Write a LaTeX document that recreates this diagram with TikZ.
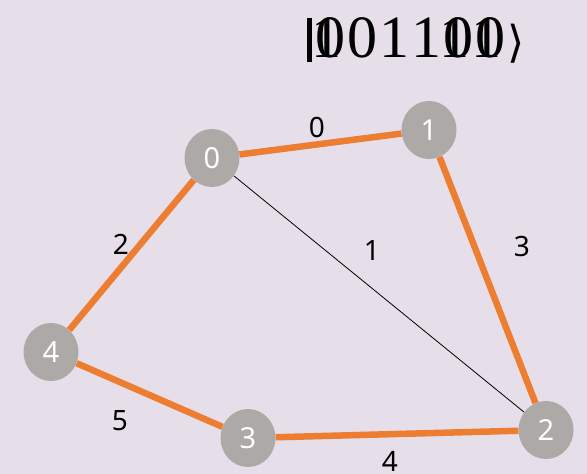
\documentclass[tikz,border=0pt]{standalone}
\usepackage{fontspec}
\setsansfont{Noto Sans}
\newfontfamily\ketfont{Liberation Serif}
\newfontfamily\djv{DejaVu Sans}
\usetikzlibrary{shapes.geometric}
\definecolor{bg}{HTML}{E6DFEA}
\definecolor{vgray}{HTML}{ADA9A6}
\definecolor{eorange}{HTML}{ED7D31}
\newcommand{\ovz}{\rlap{\kern-0.07em 1}0}
\newcommand{\dk}{\kern2pt}
\tikzset{
  vtx/.style={ellipse, fill=vgray, minimum width=55pt, minimum height=58pt, inner sep=0pt,
    text=white, font=\sffamily\fontsize{29}{29}\selectfont},
  oedge/.style={draw=eorange, line width=6.5pt},
  tedge/.style={draw=black, line width=0.8pt},
  elabel/.style={font=\sffamily\fontsize{28}{28}\selectfont, text=black, inner sep=0pt}
}
\begin{document}
\begin{tikzpicture}[x=1pt,y=-1pt]
\fill[bg] (0,0) rectangle (587,474);
\useasboundingbox (0,0) rectangle (587,474);
\node[vtx] (v0) at (212,158) {0};
\node[vtx] (v1) at (429,130) {1};
\node[vtx] (v2) at (546,430) {2};
\node[vtx] (v3) at (248,438) {3};
\node[vtx] (v4) at (51,352) {4};
\draw[oedge] (v0) -- (v1);
\draw[oedge] (v1) -- (v2);
\draw[oedge] (v2) -- (v3);
\draw[oedge] (v3) -- (v4);
\draw[oedge] (v4) -- (v0);
\draw[tedge] (v0) -- (v2);
\node[elabel] (l0) at (317,127) {0};
\node[elabel] (l1) at (372,251) {1};
\node[elabel] (l3) at (522,247) {3};
\node[elabel] (l2) at (121,244) {2};
\node[elabel] (l5) at (120,421) {5};
\node[elabel] (l4) at (390,461) {4};
\node[anchor=base, inner sep=0pt, font=\ketfont\fontsize{60}{60}\selectfont] (ket) at (416,57)
  {\rule[-5pt]{5pt}{44pt}\kern4pt\ovz\dk0\dk1\dk1\dk\ovz\dk\ovz\kern2pt{\djv\fontsize{44}{44}\selectfont ⟩}};
\end{tikzpicture}
\end{document}
